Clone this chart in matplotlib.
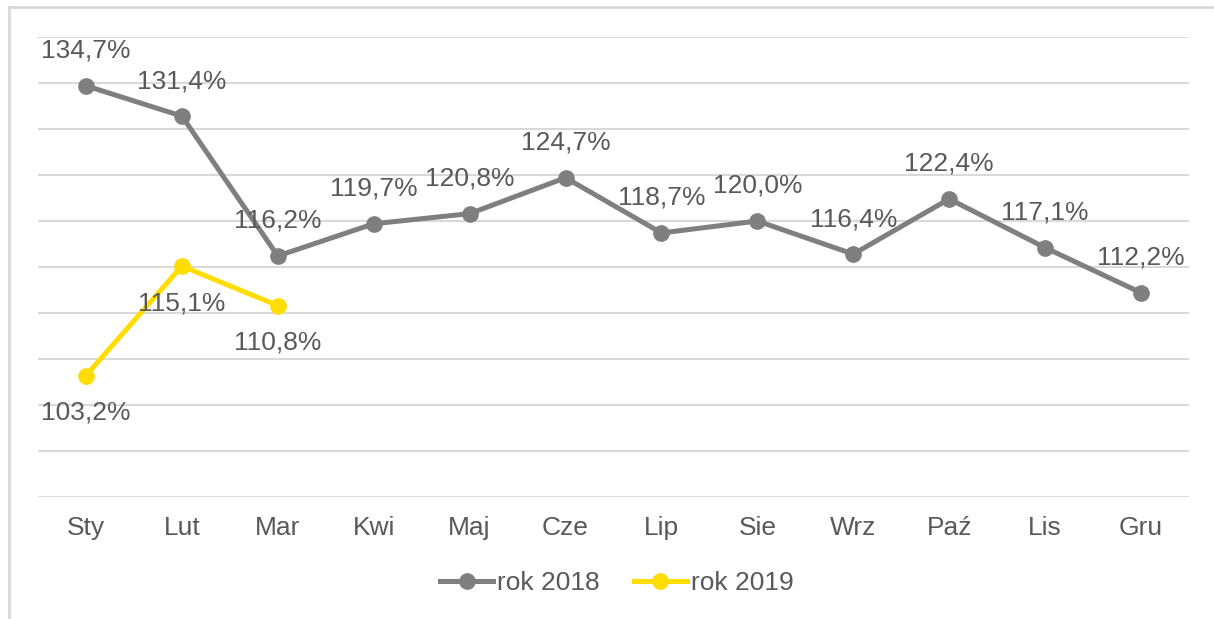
import matplotlib
matplotlib.use("Agg")
import matplotlib.pyplot as plt
from matplotlib.lines import Line2D

months = ["Sty", "Lut", "Mar", "Kwi", "Maj", "Cze", "Lip", "Sie", "Wrz", "Paź", "Lis", "Gru"]
rok_2018 = [134.7, 131.4, 116.2, 119.7, 120.8, 124.7, 118.7, 120.0, 116.4, 122.4, 117.1, 112.2]
rok_2019 = [103.2, 115.1, 110.8]

plt.rcParams['font.family'] = ['Liberation Sans', 'DejaVu Sans']
TXT = '#595959'
GRAY = '#7f7f7f'
YEL = '#ffdd00'
GRID = '#d9d9d9'

fig = plt.figure(figsize=(12.14, 6.19), dpi=100)
ax = fig.add_axes([38/1214, 122/619, (1189-38)/1214, (497-37)/619])

x = list(range(len(months)))
ax.plot(x, rok_2018, color=GRAY, lw=3.6, marker='o', ms=11, solid_capstyle='round', zorder=3)
ax.plot(x[:len(rok_2019)], rok_2019, color=YEL, lw=3.6, marker='o', ms=11, solid_capstyle='round', zorder=3)

def fmt(v):
    return f"{v:.1f}%".replace('.', ',')

for xi, v in zip(x, rok_2018):
    ax.annotate(fmt(v), (xi, v), xytext=(0, 35), textcoords='offset pixels',
                ha='center', va='center', fontsize=19, color=TXT, zorder=4)
for xi, v in zip(x, rok_2019):
    ax.annotate(fmt(v), (xi, v), xytext=(0, -37), textcoords='offset pixels',
                ha='center', va='center', fontsize=19, color=TXT, zorder=4)

ax.set_xlim(-0.5, len(months) - 0.5)
ax.set_ylim(90, 140)
ax.set_yticks(range(90, 141, 5))
ax.set_yticklabels([])
ax.tick_params(axis='y', length=0)
ax.set_xticks(x)
ax.set_xticklabels(months, fontsize=19, color=TXT)
ax.tick_params(axis='x', length=0, pad=14)
ax.grid(axis='y', color=GRID, lw=1.5)
ax.set_axisbelow(True)
for s in ax.spines.values():
    s.set_visible(False)

handles = [Line2D([], [], color=GRAY, lw=3.6, marker='o', ms=11),
           Line2D([], [], color=YEL, lw=3.6, marker='o', ms=11)]
fig.legend(handles, ["rok 2018", "rok 2019"], loc='center', bbox_to_anchor=(617/1214, 1 - 583/619),
           ncol=2, frameon=False, fontsize=19, labelcolor=TXT, handlelength=2.0,
           handletextpad=0.15, columnspacing=1.3)

# outer frame (top and left edges visible)
fig.add_artist(Line2D([8.5/1214, 8.5/1214], [0, 1 - 7/619], color=GRID, lw=2, transform=fig.transFigure))
fig.add_artist(Line2D([8.5/1214, 1], [1 - 7/619, 1 - 7/619], color=GRID, lw=2, transform=fig.transFigure))

fig.savefig("out.png", dpi=100)
